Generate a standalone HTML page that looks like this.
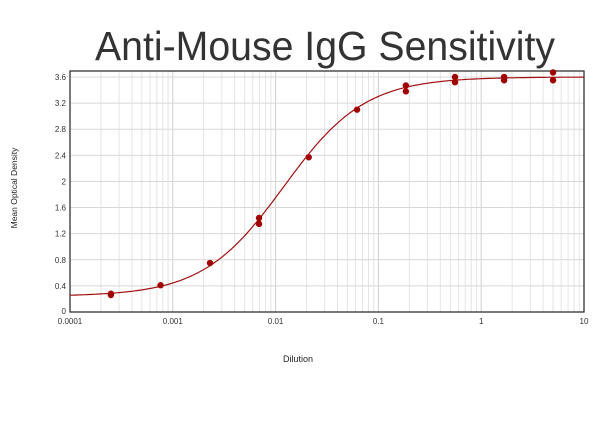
<!DOCTYPE html>
<html><head><meta charset="utf-8"><style>
html,body{margin:0;padding:0;background:#fff;width:600px;height:447px;overflow:hidden}
svg{display:block}
text{font-family:"Liberation Sans",Arial,sans-serif}
</style></head><body>
<svg id="s" width="600" height="447" xmlns="http://www.w3.org/2000/svg">
<text x="95" y="60" font-size="41" fill="#333" textLength="460" lengthAdjust="spacingAndGlyphs">Anti-Mouse IgG Sensitivity</text>
<text x="298" y="362" font-size="9" fill="#222" text-anchor="middle">Dilution</text>
<text transform="translate(17,188) rotate(-90)" font-size="8.5" fill="#222" text-anchor="middle">Mean Optical Density</text>
<g id="g"></g>
</svg>
<script>
var L=70,R=584,T=71,B=312,Y0=312,dy=(312-77)/3.6;
function X(v){return L+(Math.log10(v)+4)*(R-L)/5}
function Yv(v){return Y0-v*dy}
var h='';
for(var d=-4;d<1;d++)for(var m=1;m<10;m++){var x=X(m*Math.pow(10,d));
 h+='<line x1="'+x+'" y1="'+T+'" x2="'+x+'" y2="'+B+'" stroke="'+(m==1?'#cfcfcf':'#e4e4e4')+'" stroke-width="1"/>';}
for(var i=1;i<=9;i++){var y=Yv(i*0.4);h+='<line x1="'+L+'" y1="'+y+'" x2="'+R+'" y2="'+y+'" stroke="#d8d8d8"/>';
 h+='<text x="'+(L-4)+'" y="'+(y+3)+'" font-size="8" fill="#333" text-anchor="end">'+(+(i*0.4).toFixed(1))+'</text>';}
h+='<text x="'+(L-4)+'" y="'+(Y0+2)+'" font-size="8" fill="#333" text-anchor="end">0</text>';
var lab=['0.0001','0.001','0.01','0.1','1','10'];
for(var k=0;k<6;k++){h+='<text x="'+X(Math.pow(10,k-4))+'" y="'+(B+12)+'" font-size="8" fill="#333" text-anchor="middle">'+lab[k]+'</text>';}
h+='<rect x="'+L+'" y="'+T+'" width="'+(R-L)+'" height="'+(B-T)+'" fill="none" stroke="#222" stroke-width="1.2"/>';
var p='';for(var j=0;j<=300;j++){var lx=-4+5*j/300,v=Math.pow(10,lx);var yv=0.24+3.36/(1+Math.pow(0.012/v,1.1));p+=(j?'L':'M')+X(v).toFixed(1)+' '+Yv(yv).toFixed(1);}
h+='<path d="'+p+'" fill="none" stroke="#a01010" stroke-width="1.2"/>';
var pts=[[0.00025,0.26],[0.00025,0.28],[0.00076,0.41],[0.0023,0.75],[0.0069,1.35],[0.0069,1.44],[0.021,2.37],[0.062,3.1],[0.185,3.38],[0.185,3.47],[0.556,3.52],[0.556,3.6],[1.67,3.55],[1.67,3.6],[5,3.55],[5,3.67]];
pts.forEach(function(q){h+='<circle cx="'+X(q[0])+'" cy="'+Yv(q[1])+'" r="3.2" fill="#a00000"/>';});
document.getElementById('g').innerHTML=h;
</script>
</body></html>
